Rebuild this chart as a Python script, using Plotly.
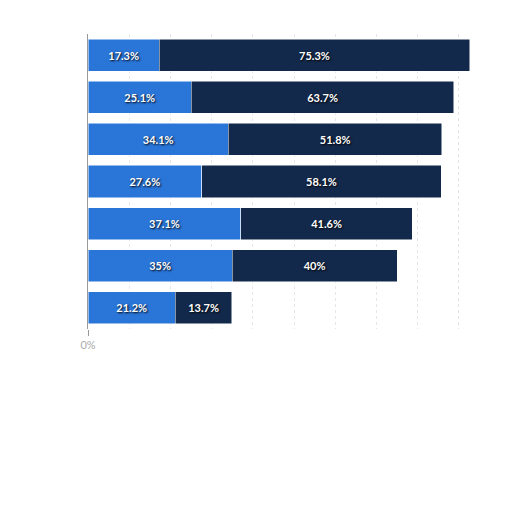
import plotly.graph_objects as go

# rows top to bottom (labels not visible in the reference)
rows = ["Row 1", "Row 2", "Row 3", "Row 4", "Row 5", "Row 6", "Row 7"]
share_a = [17.3, 25.1, 34.1, 27.6, 37.1, 35, 21.2]
share_b = [75.3, 63.7, 51.8, 58.1, 41.6, 40, 13.7]

blue = '#2a75d8'
navy = '#13294b'
label_font = dict(family='Lato', size=11, color='white', weight='bold',
                  shadow='1px 1px 2px #000')

fig = go.Figure()
fig.add_trace(go.Bar(
    y=rows, x=share_a, orientation='h', name='A',
    marker=dict(color=blue, line=dict(color='white', width=0.5)),
    texttemplate='%{x}%', textposition='inside', insidetextanchor='middle',
    textfont=label_font, hoverinfo='skip'
))
fig.add_trace(go.Bar(
    y=rows, x=share_b, orientation='h', name='B',
    marker=dict(color=navy, line=dict(color='white', width=0.5)),
    texttemplate='%{x}%', textposition='inside', insidetextanchor='middle',
    textfont=label_font, hoverinfo='skip'
))

fig.update_layout(
    width=512, height=512,
    barmode='stack', bargap=0.24,
    showlegend=False,
    plot_bgcolor='white', paper_bgcolor='white',
    margin=dict(l=80, r=20, t=26, b=191),
    uniformtext=dict(mode='show', minsize=9),
    xaxis=dict(
        range=[0, 100], tickvals=[0], ticktext=['0%'],
        ticks='outside', ticklen=6, tickcolor='#999999', tickwidth=1,
        tickfont=dict(family='Lato', size=11, color='#aaaaaa'),
        showgrid=False, zeroline=False,
        minor=dict(dtick=10, showgrid=True, gridcolor='#e6e6e6',
                   griddash='dot', gridwidth=1),
    ),
    yaxis=dict(
        categoryorder='array', categoryarray=rows[::-1],
        showticklabels=False, showgrid=False,
        showline=True, linecolor='#999999', linewidth=1,
        ticks='outside', ticklen=0,
    ),
)

fig.write_html("out.html")
